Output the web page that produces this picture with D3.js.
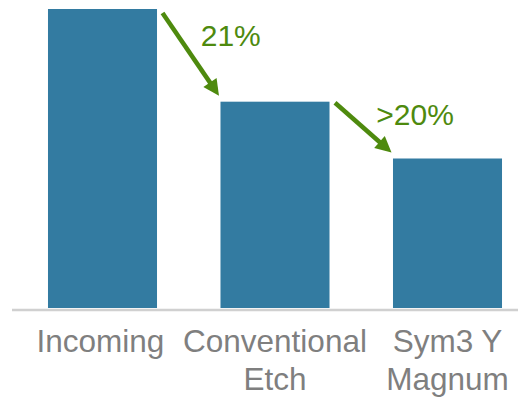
<!DOCTYPE html>
<html lang="en">
<head>
    <meta charset="UTF-8">
    <title>Etch comparison</title>
    <style type="text/css">
        body { margin: 0; background: #fff; }
        svg { display: block; }
        text { font-family: "Liberation Sans", Arial, sans-serif; }
    </style>
</head>
<body>

<svg width="518" height="398"></svg>

<script src="https://d3js.org/d3.v7.min.js"></script>

<script>
    // data
    var categories = ["Incoming", "Conventional Etch", "Sym3 Y Magnum"];
    var categoryLines = [["Incoming"], ["Conventional", "Etch"], ["Sym3 Y", "Magnum"]];
    var values = [100, 69, 50];
    var dropLabels = ["21%", ">20%"];
    var dropFrom = [0, 1];
    var dropTo = [1, 2];

    // layout nudges for the drop labels (relative to arrow midpoint)
    var labelNudge = [[10, -8], [13, -3]];

    var svg = d3.select("svg");

    var x = d3.scaleBand()
            .domain(categories)
            .range([16.25, 533.75])
            .paddingInner(0.368)
            .paddingOuter(0.184);

    var y = d3.scaleLinear()
            .domain([0, 100])
            .range([308, 9]);

    var green = "#4e8a0e";

    // bars
    svg.selectAll("rect.bar")
            .data(values)
            .enter().append("rect")
            .attr("class", "bar")
            .attr("x", function (d, i) { return x(categories[i]); })
            .attr("y", function (d) { return y(d); })
            .attr("width", x.bandwidth())
            .attr("height", function (d) { return y(0) - y(d); })
            .style("fill", "#337ba1");

    // baseline
    svg.append("line")
            .attr("x1", 12)
            .attr("x2", 518)
            .attr("y1", y(0) + 2)
            .attr("y2", y(0) + 2)
            .style("stroke", "#d0d0d0")
            .style("stroke-width", 2.5);

    // category labels
    var lab = svg.selectAll("text.cat")
            .data(categories)
            .enter().append("text")
            .attr("class", "cat")
            .attr("text-anchor", "middle")
            .style("font-size", "31.5px")
            .style("fill", "#7f7f7f");

    lab.each(function (d, i) {
        var t = d3.select(this);
        categoryLines[i].forEach(function (line, j) {
            t.append("tspan")
                    .attr("x", x(d) + x.bandwidth() / 2 - (i === 0 ? 2 : 0))
                    .attr("y", y(0) + 44 + j * 38)
                    .text(line);
        });
    });

    // drop arrows
    var arrows = dropLabels.map(function (lbl, k) {
        var a = dropFrom[k], b = dropTo[k];
        var x1 = x(categories[a]) + x.bandwidth() + 5.5,
            y1 = y(values[a]) + (k === 0 ? 4 : 1),
            x2 = x(categories[b]) - 1.5,
            y2 = y(values[b]) - 6;
        return {label: lbl, x1: x1, y1: y1, x2: x2, y2: y2, k: k};
    });

    var headLen = 16, headHalf = 8;

    arrows.forEach(function (a) {
        var dx = a.x2 - a.x1, dy = a.y2 - a.y1;
        var len = Math.sqrt(dx * dx + dy * dy);
        var ux = dx / len, uy = dy / len;
        var bx = a.x2 - ux * headLen, by = a.y2 - uy * headLen;

        svg.append("line")
                .attr("x1", a.x1).attr("y1", a.y1)
                .attr("x2", bx + ux * 2).attr("y2", by + uy * 2)
                .style("stroke", green)
                .style("stroke-width", 4.5);

        svg.append("path")
                .attr("d", "M" + a.x2 + "," + a.y2 +
                        "L" + (bx - uy * headHalf) + "," + (by + ux * headHalf) +
                        "L" + (bx + uy * headHalf) + "," + (by - ux * headHalf) + "Z")
                .style("fill", green);

        svg.append("text")
                .attr("x", (a.x1 + a.x2) / 2 + labelNudge[a.k][0])
                .attr("y", (a.y1 + a.y2) / 2 + labelNudge[a.k][1])
                .style("font-size", "30px")
                .style("fill", green)
                .text(a.label);
    });
</script>

</body>
</html>
